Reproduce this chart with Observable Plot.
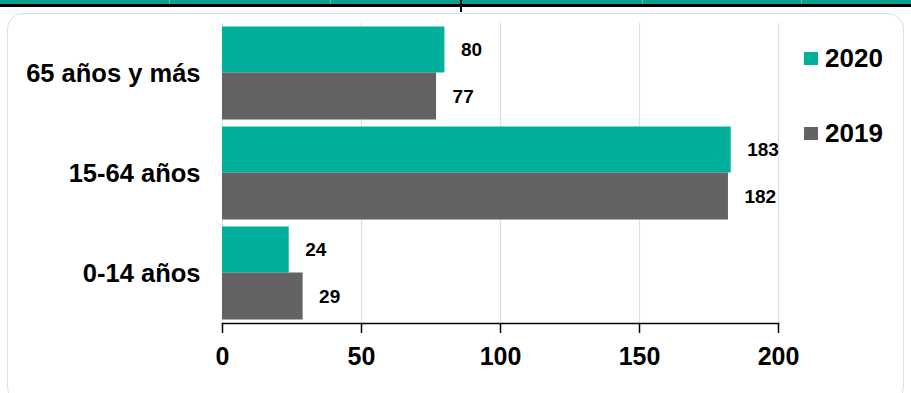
<!DOCTYPE html>
<html>
<head>
<meta charset="utf-8">
<script src="https://cdn.jsdelivr.net/npm/d3@7"></script>
<script src="https://cdn.jsdelivr.net/npm/@observablehq/plot@0.6"></script>
<style>
  html, body { margin: 0; padding: 0; background: #fff; }
  #wrap { position: relative; width: 911px; height: 393px; overflow: hidden; font-family: "Liberation Sans", Arial, sans-serif; }
  #strip { position: absolute; left: 0; top: 0; width: 911px; height: 4px; background: #0aa193; border-bottom: 3px solid #000; }
  .sep { position: absolute; top: 0; width: 1px; height: 4px; background: #8aa8a4; }
  #vbar { position: absolute; left: 460px; top: 0; width: 2px; height: 12px; background: #000; }
  #box { position: absolute; left: 7px; top: 13px; width: 897px; height: 390px; border: 1.5px solid #d5e3e3; border-radius: 16px; box-sizing: border-box; }
  #chart { position: absolute; left: 0; top: 0; }
  #legend { position: absolute; left: 804px; top: 43px; font-weight: bold; font-size: 26px; color: #000; }
  .item { position: absolute; left: 0; display: flex; align-items: center; white-space: nowrap; }
  .sw { width: 14px; height: 13px; margin-right: 7px; }
</style>
</head>
<body>
<div id="wrap">
  <div id="strip"></div>
  <div class="sep" style="left:169px"></div>
  <div class="sep" style="left:330px"></div>
  <div class="sep" style="left:642px"></div>
  <div class="sep" style="left:801px"></div>
  <div id="vbar"></div>
  <div id="box"></div>
  <div id="chart"></div>
  <div id="legend"></div>
</div>
<script>
const categories = ["65 años y más", "15-64 años", "0-14 años"];
const years = ["2020", "2019"];
const values2020 = [80, 183, 24];
const values2019 = [77, 182, 29];
const xTicks = [0, 50, 100, 150, 200];
const colors = ["#02af9a", "#646264"];

const d2020 = categories.map((c, i) => ({category: c, value: values2020[i]}));
const d2019 = categories.map((c, i) => ({category: c, value: values2019[i]}));

const plot = Plot.plot({
  width: 911,
  height: 393,
  marginLeft: 222,
  marginRight: 133,
  marginTop: 23,
  marginBottom: 70,
  style: {background: "transparent", fontFamily: "'Liberation Sans', Arial, sans-serif", color: "#000"},
  x: {domain: [0, 200], ticks: xTicks, label: null},
  y: {domain: categories, padding: 0, label: null},
  marks: [
    Plot.ruleX(xTicks, {stroke: "#d5e4e4", strokeWidth: 1.2}),
    Plot.barX(d2020, {x: "value", y: "category", fill: colors[0], insetTop: 3.5, insetBottom: 50.5}),
    Plot.barX(d2019, {x: "value", y: "category", fill: colors[1], insetTop: 49.5, insetBottom: 3.5}),
    Plot.text(d2020, {x: "value", y: "category", text: d => String(d.value), dx: 16, dy: -23.5, textAnchor: "start", fontSize: 19, fontWeight: "bold", fill: "#000"}),
    Plot.text(d2019, {x: "value", y: "category", text: d => String(d.value), dx: 16, dy: 23.5, textAnchor: "start", fontSize: 19, fontWeight: "bold", fill: "#000"}),
    Plot.frame({anchor: "bottom", stroke: "#000", strokeWidth: 1.5}),
    Plot.axisX({ticks: xTicks, tickSize: 10, tickPadding: 14, fontSize: 25, fontWeight: "bold", tickFormat: d => String(d), label: null, stroke: "#000", strokeWidth: 1.5}),
    Plot.axisY({tickSize: 0, tickPadding: 22, fontSize: 25.5, fontWeight: "bold", label: null})
  ]
});
document.getElementById("chart").appendChild(plot);

const legend = document.getElementById("legend");
years.forEach((y, i) => {
  const item = document.createElement("div");
  item.className = "item";
  item.style.top = (i === 0 ? 0 : 75) + "px";
  const sw = document.createElement("span");
  sw.className = "sw";
  sw.style.background = colors[i];
  const t = document.createElement("span");
  t.textContent = y;
  item.appendChild(sw);
  item.appendChild(t);
  legend.appendChild(item);
});
</script>
</body>
</html>
